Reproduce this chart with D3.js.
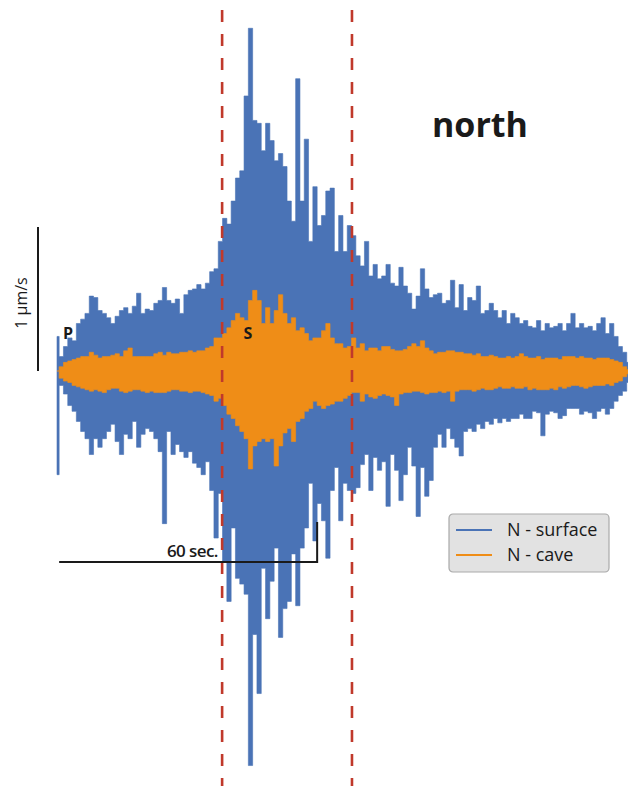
<!DOCTYPE html>
<html>
<head>
<meta charset="utf-8">
<script src="https://cdn.jsdelivr.net/npm/d3@7"></script>
<style>
  body { margin: 0; background: #fff; }
  text { font-family: "Open Sans", sans-serif; fill: #1a1a1a; }
</style>
</head>
<body>
<div id="chart"></div>
<script>
/* DATA */
// envelope of each trace, one reading per second after the P arrival (µm/s)
let dt = 1

let surfaceTop = [0.24,0.10,0.17,0.23,0.21,0.33,0.36,0.40,0.52,0.51,
  0.42,0.40,0.37,0.33,0.38,0.42,0.44,0.40,0.45,0.54,
  0.40,0.43,0.42,0.47,0.49,0.58,0.49,0.47,0.50,0.40,
  0.53,0.56,0.57,0.60,0.57,0.61,0.69,0.71,0.90,1.06,
  1.02,1.18,1.34,1.39,1.91,2.38,1.74,1.72,1.53,1.72,
  1.60,1.46,1.51,1.42,1.18,1.04,2.03,1.18,1.61,0.90,
  1.28,1.01,1.08,1.25,1.27,0.83,1.08,0.83,1.01,0.94,
  0.80,0.73,0.90,0.66,0.74,0.64,0.66,0.74,0.61,0.59,
  0.72,0.59,0.54,0.43,0.52,0.71,0.57,0.51,0.53,0.54,
  0.47,0.49,0.63,0.44,0.60,0.42,0.51,0.49,0.59,0.40,
  0.42,0.47,0.42,0.37,0.42,0.33,0.40,0.37,0.33,0.35,
  0.31,0.30,0.35,0.28,0.33,0.30,0.31,0.33,0.28,0.33,
  0.40,0.30,0.33,0.30,0.31,0.28,0.33,0.37,0.26,0.33,
  0.24,0.17,0.13,0.06]

let surfaceBottom = [-0.72,-0.10,-0.16,-0.24,-0.28,-0.35,-0.42,-0.47,-0.58,-0.47,
  -0.53,-0.47,-0.42,-0.37,-0.49,-0.58,-0.44,-0.47,-0.35,-0.53,
  -0.44,-0.40,-0.42,-0.47,-0.56,-1.06,-0.42,-0.58,-0.51,-0.56,
  -0.60,-0.56,-0.64,-0.67,-0.72,-0.63,-0.83,-1.16,-0.85,-1.32,
  -1.60,-1.09,-1.44,-1.48,-1.55,-2.74,-1.83,-2.24,-1.37,-1.72,
  -1.46,-1.23,-1.85,-1.65,-1.60,-1.27,-1.63,-1.23,-1.09,-0.78,
  -1.18,-0.92,-1.04,-1.30,-0.83,-0.67,-1.04,-0.78,-0.83,-0.85,
  -0.81,-0.65,-0.58,-0.83,-0.60,-0.69,-0.63,-0.94,-0.58,-0.69,
  -0.90,-0.72,-0.53,-0.66,-1.01,-0.67,-0.87,-0.76,-0.53,-0.44,
  -0.53,-0.40,-0.47,-0.53,-0.59,-0.42,-0.40,-0.42,-0.37,-0.40,
  -0.35,-0.37,-0.33,-0.36,-0.33,-0.35,-0.33,-0.33,-0.30,-0.33,
  -0.33,-0.28,-0.29,-0.45,-0.30,-0.28,-0.29,-0.33,-0.31,-0.26,
  -0.26,-0.26,-0.30,-0.28,-0.29,-0.33,-0.28,-0.26,-0.30,-0.26,
  -0.21,-0.17,-0.14,-0.08]

let caveTop = [0,0.03,0.06,0.07,0.08,0.09,0.10,0.10,0.13,0.11,
  0.09,0.10,0.10,0.11,0.12,0.10,0.14,0.16,0.10,0.10,
  0.10,0.10,0.10,0.12,0.13,0.11,0.13,0.12,0.12,0.13,
  0.13,0.14,0.13,0.14,0.14,0.16,0.17,0.23,0.23,0.26,
  0.30,0.35,0.40,0.37,0.35,0.49,0.56,0.49,0.33,0.44,
  0.33,0.42,0.53,0.40,0.33,0.37,0.28,0.30,0.26,0.21,
  0.23,0.23,0.28,0.33,0.23,0.19,0.19,0.16,0.17,0.23,
  0.16,0.19,0.14,0.16,0.16,0.14,0.17,0.17,0.15,0.14,
  0.14,0.15,0.17,0.19,0.17,0.21,0.16,0.14,0.12,0.13,
  0.13,0.14,0.14,0.13,0.13,0.12,0.12,0.11,0.12,0.10,
  0.10,0.11,0.10,0.09,0.09,0.10,0.09,0.10,0.12,0.10,
  0.09,0.09,0.10,0.08,0.09,0.09,0.09,0.08,0.10,0.10,
  0.10,0.09,0.10,0.09,0.09,0.08,0.09,0.09,0.09,0.08,
  0.07,0.06,0.03,0.01]

let caveBottom = [0,-0.05,-0.07,-0.08,-0.10,-0.11,-0.12,-0.13,-0.14,-0.13,
  -0.14,-0.15,-0.13,-0.12,-0.12,-0.14,-0.15,-0.14,-0.13,-0.13,
  -0.14,-0.15,-0.14,-0.15,-0.15,-0.15,-0.14,-0.13,-0.13,-0.14,
  -0.14,-0.15,-0.14,-0.14,-0.15,-0.16,-0.17,-0.21,-0.19,-0.24,
  -0.30,-0.33,-0.38,-0.42,-0.47,-0.68,-0.52,-0.49,-0.47,-0.49,
  -0.47,-0.66,-0.52,-0.43,-0.40,-0.49,-0.35,-0.33,-0.28,-0.26,
  -0.21,-0.24,-0.26,-0.24,-0.23,-0.21,-0.21,-0.19,-0.17,-0.15,
  -0.15,-0.21,-0.16,-0.18,-0.19,-0.17,-0.16,-0.17,-0.18,-0.24,
  -0.16,-0.15,-0.15,-0.14,-0.14,-0.15,-0.16,-0.15,-0.15,-0.14,
  -0.15,-0.14,-0.21,-0.14,-0.13,-0.13,-0.13,-0.14,-0.13,-0.12,
  -0.13,-0.13,-0.12,-0.11,-0.12,-0.12,-0.11,-0.12,-0.12,-0.11,
  -0.13,-0.12,-0.13,-0.13,-0.13,-0.12,-0.13,-0.11,-0.12,-0.11,
  -0.10,-0.10,-0.11,-0.12,-0.11,-0.10,-0.10,-0.10,-0.09,-0.10,
  -0.08,-0.07,-0.04,-0.02]

// phase picks and the analysis window (seconds after P)
let phaseLabels = ["P", "S"]
let phaseTimes = [1.4, 43.4]
let windowTimes = [38.4, 68.6]

let legendLabels = ["N - surface", "N - cave"]
let scaleAmp = 1      // µm/s
let scaleSeconds = 60

/* SVG OBJECT */
let svgWidth = 628
let svgHeight = 786
let colors = ["#4a73b6", "#ef8d17"]

let svg = d3.select("#chart").append("svg")
  .attr("width", svgWidth).attr("height", svgHeight)

let duration = (surfaceTop.length - 1) * dt
let x = d3.scaleLinear().domain([0, duration]).range([57, 57 + 4.3 * duration])
let y = d3.scaleLinear().domain([-1, 1]).range([515, 227])

// join the readings into rows for d3.area
function rows(top, bottom) {
  return top.map((v, i) => ({ t: i * dt, hi: v, lo: bottom[i] }))
}

let area = d3.area()
  .x(d => x(d.t))
  .y0(d => y(d.lo))
  .y1(d => y(d.hi))
  .curve(d3.curveStep)

let traces = [rows(surfaceTop, surfaceBottom), rows(caveTop, caveBottom)]

svg.selectAll("path.trace")
  .data(traces)
  .join("path")
  .attr("class", "trace")
  .attr("d", area)
  .attr("fill", (d, i) => colors[i])
  .attr("stroke", (d, i) => colors[i])
  .attr("stroke-width", 0.6)

// analysis window
svg.selectAll("line.window")
  .data(windowTimes)
  .join("line")
  .attr("class", "window")
  .attr("x1", d => x(d)).attr("x2", d => x(d))
  .attr("y1", 10).attr("y2", svgHeight)
  .attr("stroke", "#c0392b")
  .attr("stroke-width", 2.6)
  .attr("stroke-dasharray", "12,12")

// phase labels
svg.selectAll("text.phase")
  .data(phaseLabels)
  .join("text")
  .attr("class", "phase")
  .attr("x", (d, i) => x(phaseTimes[i]))
  .attr("y", y(0.22))
  .attr("font-size", 16)
  .attr("font-weight", "bold")
  .text(d => d)

/* SCALE BARS */
svg.append("line")
  .attr("x1", 38).attr("x2", 38)
  .attr("y1", y(0)).attr("y2", y(scaleAmp))
  .attr("stroke", "#1a1a1a").attr("stroke-width", 2)

svg.append("text")
  .attr("transform", `translate(27, ${y(scaleAmp / 2) + 4}) rotate(-90)`)
  .attr("text-anchor", "middle")
  .attr("font-size", 16)
  .text("1 µm/s")

let barY = 562
svg.append("path")
  .attr("d", `M${x(0.5)},${barY}H${x(0.5 + scaleSeconds)}V${barY - 40}`)
  .attr("fill", "none")
  .attr("stroke", "#1a1a1a").attr("stroke-width", 2)

svg.append("text")
  .attr("x", x(37.4)).attr("y", barY - 5)
  .attr("text-anchor", "end")
  .attr("font-size", 17)
  .attr("font-weight", 600)
  .attr("letter-spacing", -0.6)
  .text("60 sec.")

// title
svg.append("text")
  .attr("x", 432).attr("y", 137)
  .attr("font-size", 34)
  .attr("font-weight", "bold")
  .text("north")

/* LEGEND */
let legend = svg.append("g").attr("transform", "translate(449, 514)")
legend.append("rect")
  .attr("width", 160).attr("height", 58).attr("rx", 4)
  .attr("fill", "#e2e2e2").attr("stroke", "#a9a9a9").attr("stroke-width", 1.2)

let items = legend.selectAll("g.item")
  .data(legendLabels)
  .join("g")
  .attr("class", "item")
  .attr("transform", (d, i) => `translate(0, ${16 + i * 25})`)

items.append("line")
  .attr("x1", 7).attr("x2", 43)
  .attr("stroke", (d, i) => colors[i])
  .attr("stroke-width", 2)

items.append("text")
  .attr("x", 58).attr("y", 6)
  .attr("font-size", 18)
  .attr("fill", "#333")
  .text(d => d)
</script>
</body>
</html>
